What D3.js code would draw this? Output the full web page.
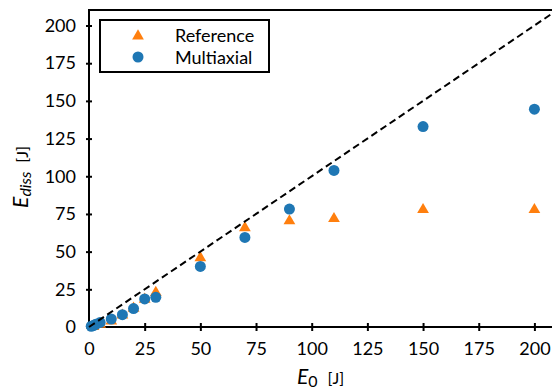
<!DOCTYPE html>
<html>
<head>
<meta charset="utf-8">
<script src="https://cdn.jsdelivr.net/npm/d3@7"></script>
<style>
  body { margin: 0; background: #fff; }
  svg { display: block; font-family: Lato, "Open Sans", sans-serif; }
</style>
</head>
<body>
<div id="chart"></div>
<script>
// Data
const refE0 = [2, 5, 10, 15, 20, 25, 30, 50, 70, 90, 110, 150, 200];
const refEdiss = [1, 2.5, 4.5, 8.5, 13, 19, 23.5, 46.5, 66.5, 71, 72.5, 78.5, 78.5];
const multiE0 = [1, 2, 3, 5, 10, 15, 20, 25, 30, 50, 70, 90, 110, 150, 200];
const multiEdiss = [0.5, 1, 1.8, 3, 5.3, 8.2, 12.2, 18.6, 19.7, 40.2, 59.4, 78.2, 103.9, 133, 144.5];
const xTicks = [0, 25, 50, 75, 100, 125, 150, 175, 200];
const yTicks = [0, 25, 50, 75, 100, 125, 150, 175, 200];
const legendLabels = ["Reference", "Multiaxial"];

const width = 552, height = 392;
const margin = { top: 10, right: 0, bottom: 65, left: 89 };

const svg = d3.select("#chart").append("svg")
  .attr("width", width)
  .attr("height", height);

const x = d3.scaleLinear().domain([0, 207.9]).range([margin.left, width - margin.right]);
const y = d3.scaleLinear().domain([0, 210.3]).range([height - margin.bottom, margin.top]);

const orange = "#ff7f0e", blue = "#1f77b4";

// Axes
const xAxis = svg.append("g")
  .attr("transform", `translate(0,${y(0)})`)
  .call(d3.axisBottom(x).tickValues(xTicks).tickSize(4).tickPadding(11));
xAxis.selectAll(".tick line").attr("y1", -4).attr("stroke-width", 2);
const yAxis = svg.append("g")
  .attr("transform", `translate(${x(0)},0)`)
  .call(d3.axisLeft(y).tickValues(yTicks).tickSize(3).tickPadding(10));
yAxis.selectAll(".tick line").attr("x1", 3).attr("stroke-width", 2);
[xAxis, yAxis].forEach(a => {
  a.select(".domain").remove();
  a.selectAll("text").attr("font-size", 18).attr("fill", "#000")
    .attr("font-family", "Lato, sans-serif");
});
svg.append("line")
  .attr("x1", x(0)).attr("x2", width).attr("y1", y(0)).attr("y2", y(0))
  .attr("stroke", "#000").attr("stroke-width", 2);
svg.append("line")
  .attr("x1", x(0)).attr("x2", x(0)).attr("y1", y(0) + 1).attr("y2", margin.top - 1)
  .attr("stroke", "#000").attr("stroke-width", 2);
svg.append("line")
  .attr("x1", x(0) - 1).attr("x2", width).attr("y1", margin.top).attr("y2", margin.top)
  .attr("stroke", "#000").attr("stroke-width", 2);

// Markers
const tri = d3.symbol().type(d3.symbolTriangle).size(60);
svg.append("g").selectAll("path")
  .data(refE0.map((d, i) => [d, refEdiss[i]]))
  .join("path")
  .attr("d", tri)
  .attr("transform", d => `translate(${x(d[0])},${y(d[1]) + 1})`)
  .attr("fill", orange);

svg.append("g").selectAll("circle")
  .data(multiE0.map((d, i) => [d, multiEdiss[i]]))
  .join("circle")
  .attr("cx", d => x(d[0]))
  .attr("cy", d => y(d[1]))
  .attr("r", 5.5)
  .attr("fill", blue);

// y = x reference line
svg.append("line")
  .attr("x1", x(0)).attr("y1", y(0))
  .attr("x2", x(207.9)).attr("y2", y(207.9))
  .attr("stroke", "#000").attr("stroke-width", 2)
  .attr("stroke-dasharray", "7,4");

// Legend
const lg = svg.append("g");
lg.append("rect")
  .attr("x", 100).attr("y", 20).attr("width", 169).attr("height", 52)
  .attr("fill", "#fff").attr("stroke", "#000").attr("stroke-width", 2);
lg.append("path").attr("d", tri).attr("transform", "translate(138,36)").attr("fill", orange);
lg.append("circle").attr("cx", 138).attr("cy", 57).attr("r", 5.5).attr("fill", blue);
legendLabels.forEach((t, i) => {
  lg.append("text").attr("x", 175).attr("y", 42 + i * 22)
    .attr("font-size", 18).text(t);
});

// Axis labels
const xl = svg.append("text")
  .attr("x", 297).attr("y", 384);
xl.append("tspan").attr("font-size", 21).attr("font-style", "italic").text("E");
xl.append("tspan").attr("font-size", 16).attr("dy", 3).text("0");
xl.append("tspan").attr("font-size", 16).attr("dy", -3).attr("dx", 10).text("[J]");

const yl = svg.append("text")
  .attr("transform", `translate(28,177) rotate(-90)`)
  .attr("text-anchor", "middle");
yl.append("tspan").attr("font-size", 21).attr("font-style", "italic").text("E");
yl.append("tspan").attr("font-size", 16).attr("font-style", "italic").attr("dy", 3).text("diss");
yl.append("tspan").attr("font-size", 16).attr("dy", -3).attr("dx", 9).text("[J]");
</script>
</body>
</html>
